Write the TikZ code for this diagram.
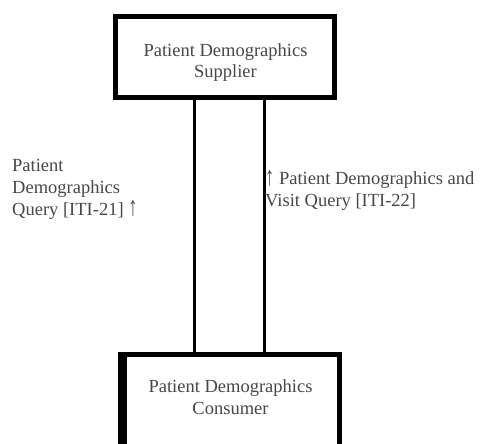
\documentclass[tikz,border=0pt]{standalone}
\usepackage{fontspec}
\usepackage{graphicx}
\setmainfont{Liberation Serif}
% tall, narrow up arrow used in the transaction labels
\newcommand{\uparr}{\raisebox{-0.5pt}{\scalebox{1.0}[1.45]{↑}}}
\begin{document}
\begin{tikzpicture}[x=1pt,y=-1pt,
  actor/.style={draw=black, line width=5pt, outer sep=0pt, inner sep=0pt},
  actortext/.style={align=center, inner sep=0pt, text=black!72,
    font=\fontsize{18.5}{21.5}\selectfont},
  link/.style={draw=black, line width=3pt},
  txlabel/.style={align=left, inner sep=0pt, text=black!72,
    font=\fontsize{18.5}{22}\selectfont}]
  \useasboundingbox (0,0) rectangle (483,444);
  \begin{scope}
    \clip (0,0) rectangle (483,444);
    % actors
    \node[actor, minimum width=219pt, minimum height=81pt] (sup) at (225,57) {};
    \node[actor, minimum width=219pt, minimum height=91.5pt] (con) at (230,400.25) {};
    \fill ([xshift=2.5pt]con.north west) rectangle ([xshift=6pt]con.south west);
    % transactions
    \draw[link] ([xshift=-31pt]sup.south) -- ([xshift=-36pt]con.north);
    \draw[link] ([xshift=39pt]sup.south) -- ([xshift=34pt]con.north);
  \end{scope}
  % actor names (anchored on the baseline of their last line)
  \node[actortext, anchor=base] (supname) at (225.5,78) {Patient Demographics\\Supplier};
  \node[actortext, anchor=base] (conname) at (230.5,414) {Patient Demographics\\Consumer};
  % transaction labels
  \node[txlabel, anchor=base west] (l21) at (12,215)
    {Patient\\Demographics\\Query [ITI-21] \uparr};
  \node[txlabel, anchor=base west] (l22) at (265,207)
    {\uparr\ Patient Demographics and\\Visit Query [ITI-22]};
\end{tikzpicture}
\end{document}
